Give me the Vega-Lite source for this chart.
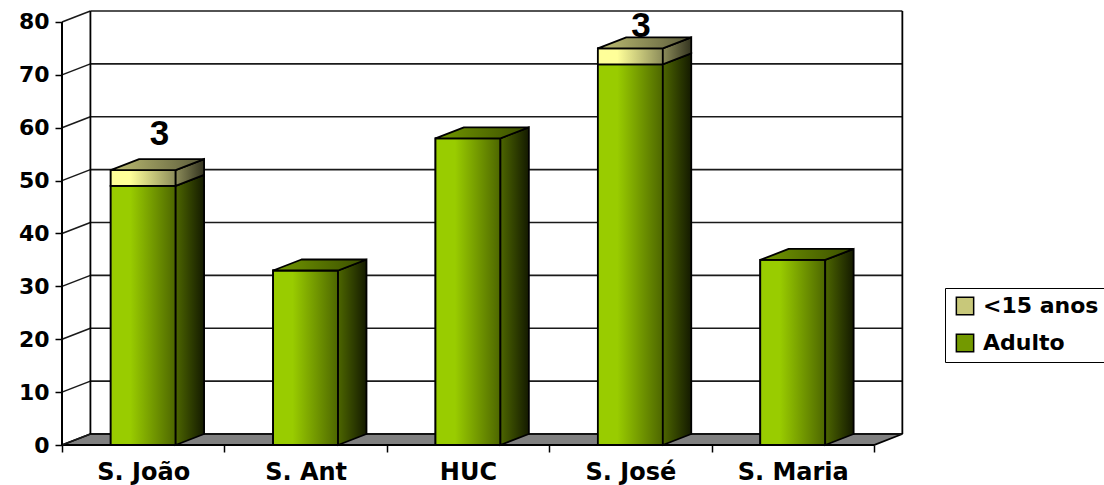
{
"$schema":"https://vega.github.io/schema/vega-lite/v6.json",
"width":841,"height":434,
"autosize":"none",
"padding":{"left":62,"top":11,"right":201,"bottom":40},
"background":"white",
"config":{"view":{"stroke":null}},
"datasets":{
"bars":[
{"hospital":"S. João","group":"Adulto","value":49},
{"hospital":"S. João","group":"<15 anos","value":3},
{"hospital":"S. Ant","group":"Adulto","value":33},
{"hospital":"HUC","group":"Adulto","value":58},
{"hospital":"S. José","group":"Adulto","value":72},
{"hospital":"S. José","group":"<15 anos","value":3},
{"hospital":"S. Maria","group":"Adulto","value":35}
],
"ticks":[{"tick":0},{"tick":10},{"tick":20},{"tick":30},{"tick":40},{"tick":50},{"tick":60},{"tick":70},{"tick":80}]
},
"layer":[
{"data":{"name":"ticks"},
 "transform":[{"calculate":"0.175","as":"dx"},{"calculate":"2.08","as":"dy"},{"calculate":"5+datum.dx","as":"xb"},{"calculate":"datum.tick+datum.dy","as":"yb"},{"calculate":"80+datum.dy","as":"yt"}],
 "layer":[
 {"transform":[{"filter":"datum.tick===0"},{"calculate":"[0,1]","as":"t"},{"flatten":["t"]},{"calculate":"datum.t*datum.dx","as":"a"},{"calculate":"5+datum.t*datum.dx","as":"b"},{"calculate":"datum.t*datum.dy","as":"c"}],
  "mark":{"type":"area","orient":"horizontal","color":"#808080","stroke":"#000","strokeWidth":1.8},
  "encoding":{
   "x":{"field":"a","type":"quantitative","scale":{"domain":[0,5.179]},
    "axis":{"title":null,"domain":false,"grid":false,"values":[0,0.5,1,1.5,2,2.5,3,3.5,4,4.5,5],
     "tickColor":"#000","tickWidth":1.5,"tickSize":7,
     "tickOpacity":{"condition":{"test":"datum.value % 1 === 0","value":1},"value":0},
     "labelExpr":"datum.value % 1 === 0 ? '' : ['S. João','S. Ant','HUC','S. José','S. Maria'][floor(datum.value)]",
     "labelFont":"DejaVu Sans","labelFontWeight":"bold","labelFontSize":24,"labelColor":"#000","labelPadding":8,"labelOverlap":false,"labelFlush":false,"labelAngle":0}},
   "x2":{"field":"b"},
   "y":{"field":"c","type":"quantitative","scale":{"domain":[0,82.08]},
    "axis":{"title":null,"domain":false,"grid":false,"values":[0,10,20,30,40,50,60,70,80],
     "tickColor":"#000","tickWidth":1.5,"tickSize":7,
     "labelFont":"DejaVu Sans","labelFontWeight":"bold","labelFontSize":22,"labelColor":"#000","labelPadding":6,"labelOverlap":false,"labelFlush":false}}
  }},
 {"mark":{"type":"rule","color":"#1a1a1a","strokeWidth":1.6},
  "encoding":{"x":{"field":"dx","type":"quantitative","scale":{"domain":[0,5.179]},"axis":{"title":null}},"x2":{"field":"xb"},"y":{"field":"yb","type":"quantitative","scale":{"domain":[0,82.08]},"axis":{"title":null}}}},
 {"transform":[{"calculate":"0","as":"x0"}],"mark":{"type":"rule","color":"#1a1a1a","strokeWidth":1.6},
  "encoding":{"x":{"field":"x0","type":"quantitative","scale":{"domain":[0,5.179]},"axis":{"title":null}},"x2":{"field":"dx"},"y":{"field":"tick","type":"quantitative","scale":{"domain":[0,82.08]},"axis":{"title":null}},"y2":{"field":"yb"}}},
 {"transform":[{"filter":"datum.tick===0"}],"mark":{"type":"rule","color":"#000","strokeWidth":1.8},
  "encoding":{"x":{"field":"dx","type":"quantitative","scale":{"domain":[0,5.179]},"axis":{"title":null}},"y":{"field":"yb","type":"quantitative","scale":{"domain":[0,82.08]},"axis":{"title":null}},"y2":{"field":"yt"}}},
 {"transform":[{"filter":"datum.tick===0"}],"mark":{"type":"rule","color":"#000","strokeWidth":1.8},
  "encoding":{"x":{"field":"xb","type":"quantitative","scale":{"domain":[0,5.179]},"axis":{"title":null}},"y":{"field":"yb","type":"quantitative","scale":{"domain":[0,82.08]},"axis":{"title":null}},"y2":{"field":"yt"}}},
 {"transform":[{"filter":"datum.tick===80"},{"calculate":"0","as":"x0"},{"calculate":"0","as":"y0"}],"mark":{"type":"rule","color":"#000","strokeWidth":2},
  "encoding":{"x":{"field":"x0","type":"quantitative","scale":{"domain":[0,5.179]},"axis":{"title":null}},"y":{"field":"y0","type":"quantitative","scale":{"domain":[0,82.08]},"axis":{"title":null}},"y2":{"field":"tick"}}}
 ]},
{"data":{"name":"bars"},
 "transform":[
  {"stack":"value","groupby":["hospital"],"sort":[{"field":"group","order":"descending"}],"as":["y0","y1"]},
  {"joinaggregate":[{"op":"sum","field":"value","as":"total"}],"groupby":["hospital"]},
  {"calculate":"indexof(['S. João','S. Ant','HUC','S. José','S. Maria'],datum.hospital)","as":"idx"},
  {"calculate":"datum.idx+0.5-0.2","as":"xl"},
  {"calculate":"datum.idx+0.5+0.2","as":"xr"},
  {"calculate":"0.175","as":"dx"},
  {"calculate":"2.08","as":"dy"}
 ],
 "layer":[
 {"mark":{"type":"rect","stroke":"#000","strokeWidth":1.8},
  "encoding":{
   "x":{"field":"xl","type":"quantitative","scale":{"domain":[0,5.179]},"axis":{"title":null}},"x2":{"field":"xr"},
   "y":{"field":"y0","type":"quantitative","scale":{"domain":[0,82.08]},"axis":{"title":null}},"y2":{"field":"y1"},
   "color":{"field":"group","type":"nominal","scale":{"domain":["<15 anos","Adulto"],"range":["#c8c87a","#739900"]},
    "legend":{"title":null,"orient":"none","legendX":883,"legendY":277,"strokeColor":"#000","fillColor":"#fff","padding":7,"symbolOffset":2,"symbolType":"square","symbolSize":300,"symbolStrokeColor":"#000","symbolStrokeWidth":1.5,"labelFont":"DejaVu Sans","labelFontWeight":"bold","labelFontSize":22,"labelColor":"#000","labelOffset":7,"rowPadding":13,"labelLimit":300,
    "encoding":{"symbols":{"update":{"stroke":{"value":"#000"}}}}}}
  }},
 {"transform":[{"filter":"datum.group==='Adulto'"}],
  "mark":{"type":"rect","stroke":"#000","strokeWidth":1.8,"color":{"gradient":"linear","x1":0,"y1":0,"x2":1,"y2":0,"stops":[{"offset":0,"color":"#99cc00"},{"offset":0.3,"color":"#99cc00"},{"offset":1,"color":"#4d6600"}]}},
  "encoding":{"x":{"field":"xl","type":"quantitative","scale":{"domain":[0,5.179]},"axis":{"title":null}},"x2":{"field":"xr"},"y":{"field":"y0","type":"quantitative","scale":{"domain":[0,82.08]},"axis":{"title":null}},"y2":{"field":"y1"}}},
 {"transform":[{"filter":"datum.group==='<15 anos'"}],
  "mark":{"type":"rect","stroke":"#000","strokeWidth":1.8,"color":{"gradient":"linear","x1":0,"y1":0,"x2":1,"y2":0,"stops":[{"offset":0,"color":"#ffff99"},{"offset":0.3,"color":"#ffff99"},{"offset":1,"color":"#8c8c5a"}]}},
  "encoding":{"x":{"field":"xl","type":"quantitative","scale":{"domain":[0,5.179]},"axis":{"title":null}},"x2":{"field":"xr"},"y":{"field":"y0","type":"quantitative","scale":{"domain":[0,82.08]},"axis":{"title":null}},"y2":{"field":"y1"}}},
 {"transform":[{"filter":"datum.group==='Adulto'"},{"calculate":"[0,1]","as":"t"},{"flatten":["t"]},{"calculate":"datum.xr+datum.t*datum.dx","as":"a"},{"calculate":"datum.y0+datum.t*datum.dy","as":"b"},{"calculate":"datum.y1+datum.t*datum.dy","as":"c"}],
  "mark":{"type":"area","stroke":"#000","strokeWidth":1.8,"color":{"gradient":"linear","x1":0,"y1":0,"x2":1,"y2":0,"stops":[{"offset":0,"color":"#4d6600"},{"offset":1,"color":"#141a00"}]}},
  "encoding":{"detail":{"field":"hospital"},"x":{"field":"a","type":"quantitative","scale":{"domain":[0,5.179]},"axis":{"title":null}},"y":{"field":"c","type":"quantitative","scale":{"domain":[0,82.08]},"axis":{"title":null}},"y2":{"field":"b"}}},
 {"transform":[{"filter":"datum.group==='<15 anos'"},{"calculate":"[0,1]","as":"t"},{"flatten":["t"]},{"calculate":"datum.xr+datum.t*datum.dx","as":"a"},{"calculate":"datum.y0+datum.t*datum.dy","as":"b"},{"calculate":"datum.y1+datum.t*datum.dy","as":"c"}],
  "mark":{"type":"area","stroke":"#000","strokeWidth":1.8,"color":{"gradient":"linear","x1":0,"y1":0,"x2":1,"y2":0,"stops":[{"offset":0,"color":"#8c8c5a"},{"offset":1,"color":"#33331f"}]}},
  "encoding":{"detail":{"field":"hospital"},"x":{"field":"a","type":"quantitative","scale":{"domain":[0,5.179]},"axis":{"title":null}},"y":{"field":"c","type":"quantitative","scale":{"domain":[0,82.08]},"axis":{"title":null}},"y2":{"field":"b"}}},
 {"transform":[{"filter":"datum.group==='Adulto' && datum.y1===datum.total"},{"calculate":"[0,1]","as":"t"},{"flatten":["t"]},{"calculate":"datum.xl+datum.t*datum.dx","as":"a"},{"calculate":"datum.xr+datum.t*datum.dx","as":"b"},{"calculate":"datum.y1+datum.t*datum.dy","as":"c"}],
  "mark":{"type":"area","orient":"horizontal","stroke":"#000","strokeWidth":1.8,"color":{"gradient":"linear","x1":0,"y1":0,"x2":1,"y2":0,"stops":[{"offset":0,"color":"#739900"},{"offset":1,"color":"#3a4d00"}]}},
  "encoding":{"detail":{"field":"hospital"},"x":{"field":"a","type":"quantitative","scale":{"domain":[0,5.179]},"axis":{"title":null}},"x2":{"field":"b"},"y":{"field":"c","type":"quantitative","scale":{"domain":[0,82.08]},"axis":{"title":null}}}},
 {"transform":[{"filter":"datum.group==='<15 anos'"},{"calculate":"[0,1]","as":"t"},{"flatten":["t"]},{"calculate":"datum.xl+datum.t*datum.dx","as":"a"},{"calculate":"datum.xr+datum.t*datum.dx","as":"b"},{"calculate":"datum.y1+datum.t*datum.dy","as":"c"}],
  "mark":{"type":"area","orient":"horizontal","stroke":"#000","strokeWidth":1.8,"color":{"gradient":"linear","x1":0,"y1":0,"x2":1,"y2":0,"stops":[{"offset":0,"color":"#bfbf73"},{"offset":1,"color":"#59593a"}]}},
  "encoding":{"detail":{"field":"hospital"},"x":{"field":"a","type":"quantitative","scale":{"domain":[0,5.179]},"axis":{"title":null}},"x2":{"field":"b"},"y":{"field":"c","type":"quantitative","scale":{"domain":[0,82.08]},"axis":{"title":null}}}},
 {"transform":[{"filter":"datum.group==='<15 anos'"},{"calculate":"datum.idx+0.5+(datum.total>70?0.066:0.1)","as":"lx"},{"calculate":"min(datum.total+6.8,79.2)","as":"ly"}],
  "mark":{"type":"text","font":"Liberation Sans","fontWeight":"bold","fontSize":35,"color":"#000","baseline":"middle","align":"center"},
  "encoding":{"x":{"field":"lx","type":"quantitative","scale":{"domain":[0,5.179]},"axis":{"title":null}},"y":{"field":"ly","type":"quantitative","scale":{"domain":[0,82.08]},"axis":{"title":null}},"text":{"field":"value","type":"quantitative"}}}
 ]}
]
}
